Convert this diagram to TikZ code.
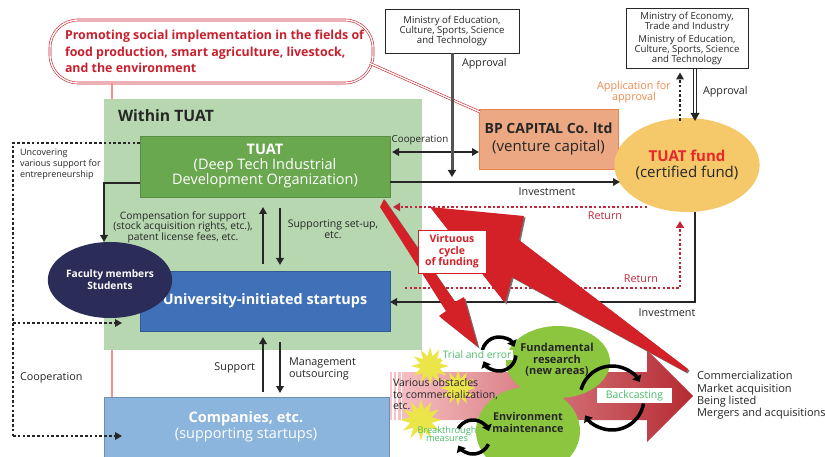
\documentclass[tikz,border=0pt]{standalone}
\usepackage{fontspec}
\setmainfont{Open Sans}
\usetikzlibrary{arrows.meta,shapes.geometric,calc}
\definecolor{ink}{HTML}{262626}
\definecolor{areagreen}{HTML}{B6D7B0}
\definecolor{tuatgreen}{HTML}{6AA84F}
\definecolor{startblue}{HTML}{3F70B8}
\definecolor{compblue}{HTML}{8BB5DC}
\definecolor{navy}{HTML}{2B2C57}
\definecolor{bpfill}{HTML}{EBA882}
\definecolor{bpline}{HTML}{E9834B}
\definecolor{fundyel}{HTML}{F5C86A}
\definecolor{fundred}{HTML}{E8262B}
\definecolor{redA}{HTML}{D42128}
\definecolor{titlered}{HTML}{C8202E}
\definecolor{retred}{HTML}{C0283A}
\definecolor{appor}{HTML}{EE8A4E}
\definecolor{txtgreen}{HTML}{4CBB6C}
\definecolor{leafgreen}{HTML}{8CC63F}
\definecolor{staryel}{HTML}{ECE54A}
\definecolor{bandL}{HTML}{F7C4C8}
\definecolor{bandM}{HTML}{E9A0A6}
\definecolor{bandR}{HTML}{B52A32}
\begin{document}
\begin{tikzpicture}[x=1pt,y=-1pt,
  every node/.style={inner sep=0pt,outer sep=0pt,text=ink},
  line/.style={line width=2.4pt,draw=ink},
  tip/.style={-{Triangle[length=7pt,width=7.5pt]}},
  tips/.style={{Triangle[length=7pt,width=7.5pt]}-{Triangle[length=7pt,width=7.5pt]}},
  dotk/.style={line width=2.6pt,draw=ink,dash pattern=on 2.6pt off 2.2pt},
  dotr/.style={line width=2.4pt,draw=retred,dash pattern=on 2.4pt off 2.2pt},
  dblred/.style={draw=titlered,line width=0.6pt,double=#1,double distance=1.4pt},
  dblred/.default=white,
  lbl/.style={font=\fontsize{10.8}{11.5}\selectfont},
  small/.style={font=\fontsize{10.2}{10.6}\selectfont,align=center},
  minis/.style={draw=ink,line width=0.8pt,fill=white,font=\fontsize{9.6}{9.9}\selectfont,align=center},
  cyc/.style={line width=3.5pt,draw=black,-{Triangle[length=6pt,width=10pt]}},
  greenlbl/.style={fill=white,text=txtgreen,inner xsep=2pt,inner ysep=1.5pt},
  burst/.style={star,star points=12,star point ratio=1.9,fill=staryel,minimum size=#1},
]
\useasboundingbox (0,0) rectangle (825,457);

% title and companies (defined first for the red connector)
\node[dblred, rounded corners=28pt, fill=white, minimum width=323pt, minimum height=63pt] (title) at (211.5,51.5) {};
\node[anchor=west,align=left,text=titlered,font=\fontsize{12.4}{16.5}\selectfont\bfseries] (titletxt) at (65,51.5)
  {Promoting social implementation in the fields of\\food production, smart agriculture, livestock,\\and the environment};
\node[fill=compblue, draw=compblue!80!black, line width=0.6pt, minimum width=285pt, minimum height=75pt] (comp) at (246.5,434.5) {};
\node[text=white,align=center,font=\fontsize{14.5}{16}\selectfont] (comptxt) at (246,427) {\bfseries Companies, etc.\\(supporting startups)};

\draw[dblred=red!45] ($(title.south west)+(62,0)$) -- ($(comp.north west)+(8,0)$);

% green area
\fill[areagreen] (104,99) rectangle (422,350);
\node[anchor=west,font=\fontsize{15.7}{17}\selectfont\bfseries] (within) at (118,116) {Within TUAT};

% main boxes
\node[fill=tuatgreen, draw=tuatgreen!85!black, line width=0.6pt, minimum width=250pt, minimum height=61pt, text=white, align=center, font=\fontsize{14.5}{15}\selectfont] (tuat) at (265,166.5)
  {\bfseries TUAT\\(Deep Tech Industrial\\Development Organization)};
\node[fill=startblue, draw=startblue!80!black, line width=0.6pt, minimum width=250pt, minimum height=60pt, text=white, font=\fontsize{14.4}{16}\selectfont\bfseries] (start) at (265,301) {University-initiated startups};
\node[ellipse, fill=navy, minimum width=106pt, minimum height=76pt, text=white, align=center, font=\fontsize{10.2}{12}\selectfont\bfseries] (fac) at (110,280) {Faculty members\\Students};

\node[minis, minimum width=134pt, minimum height=44pt] (min1) at (452,31) {Ministry of Education,\\Culture, Sports, Science\\and Technology};
\node[minis, minimum width=122pt, minimum height=60pt] (min2) at (687,38.5) {Ministry of Economy,\\Trade and Industry\\[3pt]Ministry of Education,\\Culture, Sports, Science\\and Technology};
\node[fill=bpfill, draw=bpline, line width=0.8pt, minimum width=139pt, minimum height=60pt, align=center, font=\fontsize{15}{18}\selectfont] (bp) at (548.5,139) {\fontsize{14}{18}\selectfont\bfseries BP CAPITAL Co. ltd\\(venture capital)};
\node[ellipse, fill=fundyel, minimum width=138pt, minimum height=94pt, align=center, font=\fontsize{15}{16.5}\selectfont] (fund) at (687,165) {\textcolor{fundred}{\bfseries TUAT fund}\\(certified fund)};

\draw[dblred] ($(title.east)+(-3,12)$) -- ($(bp.north west)+(1,3)$);

% left dotted loop
\draw[dotk] (tuat.west |- 0,143) -- (13,143) -- (13,436);
\draw[dotk,tip] (13,436) -- ($(comp.west |- 0,436)+(18,0)$);
\draw[dotk,tip] (13,323) -- (122,323);
\node[anchor=north west,align=left,font=\fontsize{9}{10.8}\selectfont] (uncov) at (20,149) {Uncovering\\various support for\\entrepreneurship};
\node[anchor=west,lbl] (coopL) at (20,378) {Cooperation};

% TUAT -> faculty
\draw[line,tip] (tuat.west |- 0,183) -- (104,183) -- ($(fac.north)+(-6,0)$);

% TUAT <-> startups
\draw[line,tip] ($(start.north)+(-2,-7)$) -- ($(tuat.south)+(-2,10)$);
\draw[line,tip] ($(tuat.south)+(15,11)$) -- ($(start.north)+(15,-6)$);
\node[small] (comptext) at (183,227) {Compensation for support\\(stock acquisition rights, etc.),\\patent license fees, etc.};
\node[small,font=\fontsize{10.5}{11.5}\selectfont] (suptext) at (333,229) {Supporting set-up,\\etc.};

% startups <-> companies
\draw[line,tip] ($(comp.north)+(16.5,-5)$) -- ($(start.south)+(-2,6)$);
\draw[line,tip] ($(start.south)+(15,11)$) -- ($(comp.north)+(33.5,-4)$);
\node[anchor=east,lbl] (supp) at (255,368) {Support};
\node[anchor=west,align=left,font=\fontsize{10.8}{11.8}\selectfont] (mgmt) at (289,369) {Management\\outsourcing};

% cooperation with BP
\draw[line,tips] ($(tuat.east)+(2,-14.5)$) -- ($(bp.west)+(0,13)$);
\node[font=\fontsize{9.8}{10}\selectfont] (coopR) at (420,140) {Cooperation};

% approval from ministry 1
\coordinate (appr1) at (452,177);
\draw[line width=3pt,draw=gray!65!black,-{Triangle[length=7pt,width=8pt,color=ink]}] (min1.south) -- (appr1);
\node[anchor=west,lbl] (apprL1) at (462,64) {Approval};

% investment to fund
\draw[line,tip] ($(tuat.east)+(0,15.5)$) -- (620,182);
\node[lbl] (inv1) at (547,192) {Investment};

% return 1
\draw[dotr,-{Triangle[length=7pt,width=8pt]}] (647,207) -- (393,207);
\node[text=retred,lbl] (ret1) at (605,216) {Return};

% investment 2
\draw[line,tip] ($(fund.south)+(8,0)$) |- ($(start.east)+(0,1)$);
\node[lbl] (inv2) at (667,313) {Investment};

% return 2
\draw[dotr,-{Triangle[length=7pt,width=8pt]}] (405,288) -| (680,221);
\node[text=retred,lbl] (ret2) at (641,279) {Return};

% application / approval with ministry 2
\draw[dotk,tip] ($(fund.north)+(-7,3)$) -- ($(min2.south)+(-7,4)$);
\node[text=appor,align=center,font=\fontsize{10.8}{11.2}\selectfont] (applic) at (634,92.5) {Application for\\approval};
\draw[line width=0.8pt,draw=ink] ($(min2.south)+(6.5,1)$) -- (693.5,114) ($(min2.south)+(9.5,1)$) -- (696.5,114);
\fill[ink] (690.5,113) -- (699.5,113) -- (695,121) -- cycle;
\node[anchor=west,lbl] (apprL2) at (703,92) {Approval};

% commercialization band
\shade[left color=bandL, middle color=bandM, right color=bandR] (390,372) -- (647,372) -- (647,350) -- (693,396) -- (647,442) -- (647,420) -- (390,420) -- cycle;
\draw[white,line width=1.2pt] (393,372) -- (393,420) (397,372) -- (397,420) (401.5,372) -- (401.5,420);

% bursts
\node[burst=38pt] (s1) at (430,366) {};
\node[burst=36pt] (s2) at (458,388) {};
\node[burst=42pt] (s3) at (421,420) {};

% green ellipses
\node[ellipse, fill=leafgreen, minimum width=104pt, minimum height=72pt] (fr) at (558,362) {};
\node[ellipse, fill=leafgreen, minimum width=104pt, minimum height=88pt] (em) at (528,431) {};
\node[align=center,font=\fontsize{11}{11.5}\selectfont\bfseries] (frtxt) at (557,360) {Fundamental\\research\\(new areas)};
\node[align=center,font=\fontsize{10.8}{11.5}\selectfont\bfseries] (emtxt) at (528,422.5) {Environment\\maintenance};

% red arrows (virtuous cycle)
\fill[black!55,shift={(1.5,1.5)}] (384,199) -- (455,302) -- (464,297) -- (478,347) -- (439,316) -- (446,311) -- (380,207) -- cycle;
\fill[redA] (384,199) -- (455,302) -- (464,297) -- (478,347) -- (439,316) -- (446,311) -- (380,207) -- cycle;
\fill[black!55,shift={(1.5,1.5)}] (430,207) -- (524,216) -- (519,240) -- (688,369) -- (686,372) -- (512,277) -- (505,303) -- cycle;
\fill[redA] (430,207) -- (524,216) -- (519,240) -- (688,369) -- (686,372) -- (512,277) -- (505,303) -- cycle;
\node[draw=redA, fill=white, line width=0.8pt, minimum width=68pt, minimum height=43pt, align=center, text=redA, font=\fontsize{10.5}{11.5}\selectfont\bfseries] (vc) at (452,251.5) {Virtuous\\cycle\\of funding};

% cycle arrows
\draw[cyc] (499,354) ++(-185:17) arc[start angle=-185,end angle=-25,radius=17];
\draw[cyc] (499,354) ++(5:17) arc[start angle=5,end angle=155,radius=17];
\draw[cyc] (612,398) ++(-165:32) arc[start angle=-165,end angle=-30,radius=32];
\draw[cyc] (612,398) ++(10:32) arc[start angle=10,end angle=147,radius=32];
\draw[cyc] (473,437) ++(-150:17) arc[start angle=-150,end angle=-20,radius=17];
\draw[cyc] (473,437) ++(25:17) arc[start angle=25,end angle=150,radius=17];

% labels on band
\node[greenlbl,font=\fontsize{10.3}{11}\selectfont] (trial) at (477,355) {Trial and error};
\node[greenlbl,font=\fontsize{10.5}{12}\selectfont,minimum width=75pt,minimum height=15pt] (back) at (634.5,395.5) {Backcasting};
\node[text=txtgreen,align=center,font=\fontsize{9.2}{8.8}\selectfont] (brk) at (447,434) {Breakthrough\\measures};
\node[anchor=north west,align=left,font=\fontsize{10.5}{11.5}\selectfont] (obst) at (393,379) {Various obstacles\\to commercialization,\\etc.};
\node[anchor=west,align=left,font=\fontsize{11}{12.3}\selectfont] (comm) at (697,395.5) {Commercialization\\Market acquisition\\Being listed\\Mergers and acquisitions};
\end{tikzpicture}
\end{document}
